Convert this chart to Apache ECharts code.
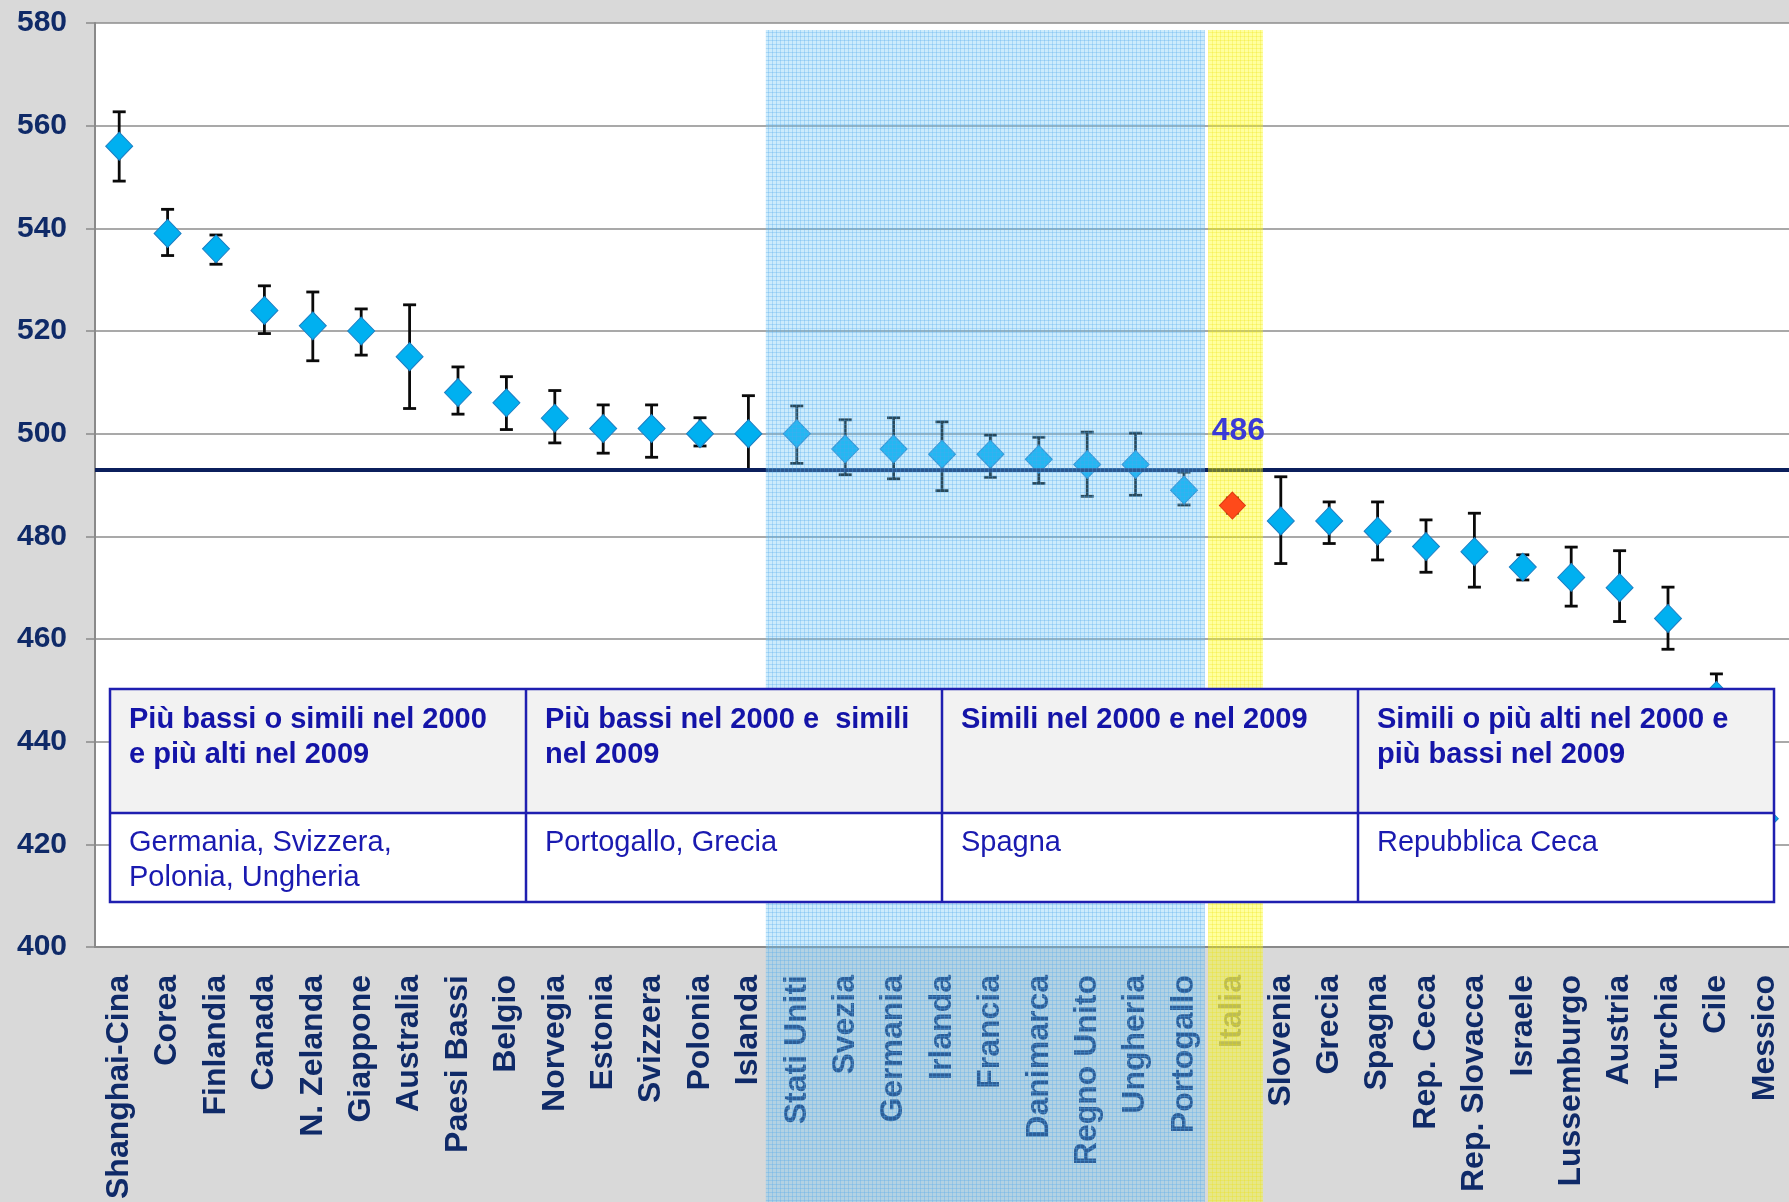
<!DOCTYPE html>
<html>
<head>
<meta charset="utf-8">
<script src="https://cdn.jsdelivr.net/npm/echarts@6/dist/echarts.min.js"></script>
<style>
  html, body { margin: 0; padding: 0; background: #d9d9d9; }
  #chart { width: 1789px; height: 1202px; }
</style>
</head>
<body>
<div id="chart"></div>
<script>
// PISA 2009 - lettura: punteggi medi e intervalli
var countries = ['Shanghai-Cina', 'Corea', 'Finlandia', 'Canada', 'N. Zelanda', 'Giappone', 'Australia',
    'Paesi Bassi', 'Belgio', 'Norvegia', 'Estonia', 'Svizzera', 'Polonia', 'Islanda', 'Stati Uniti',
    'Svezia', 'Germania', 'Irlanda', 'Francia', 'Danimarca', 'Regno Unito', 'Ungheria', 'Portogallo',
    'Italia', 'Slovenia', 'Grecia', 'Spagna', 'Rep. Ceca', 'Rep. Slovacca', 'Israele', 'Lussemburgo',
    'Austria', 'Turchia', 'Cile', 'Messico'];
var scores = [556, 539, 536, 524, 521, 520, 515, 508, 506, 503, 501, 501, 500, 500, 500,
    497, 497, 496, 496, 495, 494, 494, 489, 486, 483, 483, 481, 478, 477, 474, 472, 470, 464, 449, 425];
var ciLow = [549.2, 534.7, 533.0, 519.5, 514.2, 515.3, 504.9, 503.8, 500.8, 498.2, 496.2, 495.4, 497.6, 493.0, 494.2,
    492.0, 491.2, 488.9, 491.5, 490.3, 487.8, 488.0, 486.1, 484.5, 474.7, 478.6, 475.4, 473.0, 470.1, 471.5, 466.4,
    463.4, 458.0, 445.5, 421.5];
var ciHigh = [562.7, 543.7, 538.7, 528.8, 527.6, 524.3, 525.1, 513.0, 511.1, 508.4, 505.6, 505.6, 503.1, 507.4, 505.4,
    502.7, 503.1, 502.3, 499.7, 499.3, 500.3, 500.1, 492.5, 487.5, 491.6, 486.7, 486.7, 483.2, 484.5, 476.4, 477.9,
    477.2, 470.1, 453.2, 428.5];
var oecdMean = 493;
var highlight = 'Italia';
var yMin = 400, yMax = 580, yStep = 20;

var tableHeaders = [
    'Più bassi o simili nel 2000\ne più alti nel 2009',
    'Più bassi nel 2000 e  simili\nnel 2009',
    'Simili nel 2000 e nel 2009',
    'Simili o più alti nel 2000 e\npiù bassi nel 2009'
];
var tableCountries = [
    'Germania, Svizzera,\nPolonia, Ungheria',
    'Portogallo, Grecia',
    'Spagna',
    'Repubblica Ceca'
];

var FONT = 'Liberation Sans, Arial, sans-serif';
var NAVY = '#0f2a68';
var gridLeft = 95, gridTop = 23, gridBottom = 255, gridRight = 0;
var W = 1789, H = 1202;
var band = (W - gridLeft - gridRight) / countries.length;
var hiIdx = countries.indexOf(highlight);

function makePattern(base, line, size) {
    var c = document.createElement('canvas');
    c.width = c.height = size;
    var ctx = c.getContext('2d');
    ctx.fillStyle = base;
    ctx.fillRect(0, 0, size, size);
    ctx.fillStyle = line;
    ctx.fillRect(0, 0, size, 1);
    ctx.fillRect(0, 0, 1, size);
    return {image: c, repeat: 'repeat'};
}

function renderErr(params, api) {
    var x = api.value(0);
    var pLo = api.coord([x, api.value(1)]);
    var pHi = api.coord([x, api.value(2)]);
    var w = 6.5, st = {stroke: '#0a0a0a', lineWidth: 2.8};
    return {
        type: 'group',
        children: [
            {type: 'line', shape: {x1: pHi[0], y1: pHi[1], x2: pLo[0], y2: pLo[1]}, style: st},
            {type: 'line', shape: {x1: pHi[0] - w, y1: pHi[1], x2: pHi[0] + w, y2: pHi[1]}, style: st},
            {type: 'line', shape: {x1: pLo[0] - w, y1: pLo[1], x2: pLo[0] + w, y2: pLo[1]}, style: st}
        ]
    };
}

// overlay bands (blue group and Italy), drawn over plot and labels
var blueX0 = gridLeft + band * 13.86, blueX1 = gridLeft + band * 22.93;
var yelX0 = gridLeft + band * 23.0, yelX1 = gridLeft + band * 24.13;
var graphics = [
    {type: 'rect', z: 10, silent: true,
        shape: {x: blueX0, y: 30, width: blueX1 - blueX0, height: H - 30},
        style: {fill: makePattern('rgba(105,195,245,0.34)', 'rgba(80,170,235,0.3)', 4)}},
    {type: 'rect', z: 10, silent: true,
        shape: {x: yelX0, y: 30, width: yelX1 - yelX0, height: H - 30},
        style: {fill: makePattern('rgba(255,255,0,0.38)', 'rgba(235,225,0,0.25)', 4)}}
];

// table box, on top of everything
var tL = 110, tR = 1774, tT = 689, tM = 813, tB = 902;
var colW = (tR - tL) / 4;
var tblColor = '#1f1fb0';
graphics.push(
    {type: 'rect', z: 30, silent: true, shape: {x: tL, y: tT, width: tR - tL, height: tM - tT}, style: {fill: '#f2f2f2'}},
    {type: 'rect', z: 30, silent: true, shape: {x: tL, y: tM, width: tR - tL, height: tB - tM}, style: {fill: '#ffffff'}},
    {type: 'rect', z: 31, silent: true, shape: {x: tL, y: tT, width: tR - tL, height: tB - tT},
        style: {fill: 'none', stroke: tblColor, lineWidth: 2.5}},
    {type: 'line', z: 31, silent: true, shape: {x1: tL, y1: tM, x2: tR, y2: tM}, style: {stroke: tblColor, lineWidth: 2.5}}
);
for (var k = 0; k < 4; k++) {
    var cx = tL + colW * k;
    if (k > 0) graphics.push({type: 'line', z: 31, silent: true, shape: {x1: cx, y1: tT, x2: cx, y2: tB},
        style: {stroke: tblColor, lineWidth: 2.5}});
    graphics.push({type: 'text', z: 32, silent: true, x: cx + 19, y: tT + 13,
        style: {text: tableHeaders[k], font: 'bold 29px ' + FONT, fill: '#1414a8', lineHeight: 35,
            verticalAlign: 'top'}});
    graphics.push({type: 'text', z: 32, silent: true, x: cx + 19, y: tM + 12,
        style: {text: tableCountries[k], font: '29px ' + FONT, fill: '#1a1ab0', lineHeight: 35,
            verticalAlign: 'top'}});
}

var chart = echarts.init(document.getElementById('chart'), null, {renderer: 'canvas'});
chart.setOption({
    animation: false,
    backgroundColor: '#d9d9d9',
    grid: {left: gridLeft, right: gridRight, top: gridTop, bottom: gridBottom,
        show: true, backgroundColor: '#ffffff', borderWidth: 0},
    xAxis: {
        type: 'category',
        data: countries,
        boundaryGap: true,
        axisLine: {lineStyle: {color: '#8a8a8a', width: 2}},
        axisTick: {show: false},
        axisLabel: {
            interval: 0, rotate: 90, margin: 28,
            fontFamily: FONT, fontSize: 32, fontWeight: 'bold', color: NAVY,
            formatter: function (v) { return v === highlight ? '{it|' + v + '}' : v; },
            rich: {it: {color: '#94948c', fontFamily: FONT, fontSize: 32, fontWeight: 'bold'}}
        }
    },
    yAxis: {
        type: 'value',
        min: yMin, max: yMax, interval: yStep,
        axisLine: {show: true, lineStyle: {color: '#8a8a8a', width: 2}},
        axisTick: {show: true, length: 9, lineStyle: {color: '#8a8a8a', width: 1.5}},
        axisLabel: {margin: 28, fontFamily: FONT, fontSize: 30, fontWeight: 'bold', color: NAVY},
        splitLine: {lineStyle: {color: '#8c8c8c', width: 1.5}}
    },
    graphic: graphics,
    series: [
        {
            type: 'custom',
            z: 2,
            renderItem: renderErr,
            data: countries.map(function (c, i) { return [i, ciLow[i], ciHigh[i]]; }),
            encode: {x: 0, y: [1, 2]},
            silent: true
        },
        {
            type: 'scatter',
            z: 3,
            symbol: 'diamond',
            symbolSize: [27, 28],
            itemStyle: {color: '#00b0f0', borderColor: '#1c7fc4', borderWidth: 1, opacity: 1},
            data: scores.map(function (v, i) { return i === hiIdx ? '-' : v; }),
            markLine: {
                silent: true, symbol: 'none', animation: false,
                label: {show: false},
                lineStyle: {color: '#0b1f5c', width: 4, type: 'solid'},
                data: [{yAxis: oecdMean}]
            }
        },
        {
            type: 'scatter',
            z: 20,
            symbol: 'diamond',
            symbolSize: [26, 27],
            itemStyle: {color: '#ff4a1a', borderColor: '#e03a10', borderWidth: 1, opacity: 1},
            label: {show: true, position: 'top', distance: 44, offset: [6, 0],
                fontFamily: FONT, fontSize: 32, fontWeight: 'bold', color: '#3a3ad6',
                formatter: function (p) { return p.value; }},
            data: scores.map(function (v, i) { return i === hiIdx ? v : '-'; })
        }
    ]
});
</script>
</body>
</html>
